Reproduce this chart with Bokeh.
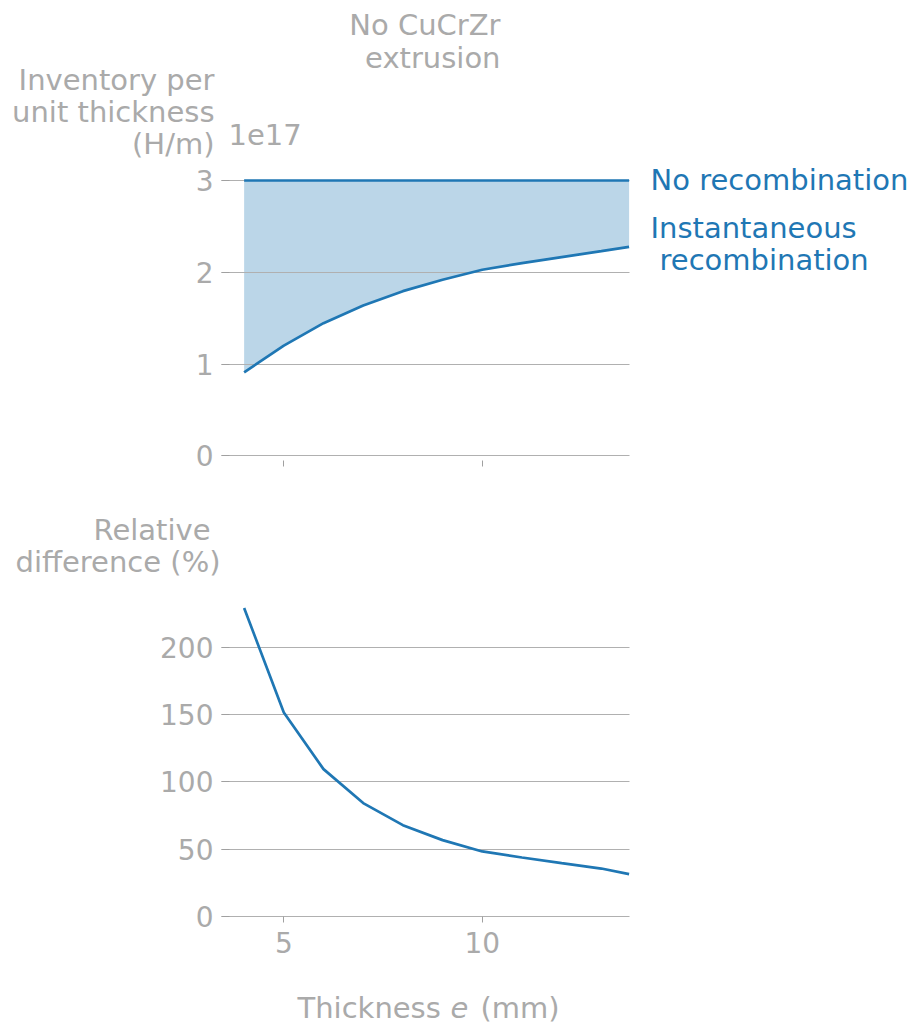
from bokeh.plotting import figure
from bokeh.layouts import column
from bokeh.models import Label, Range1d, FixedTicker, CustomJSTickFormatter
from bokeh.embed import file_html
from bokeh.resources import INLINE

# ---------------- data ----------------
thickness_mm = [4, 5, 6, 7, 8, 9, 10, 11, 12, 13, 13.7]
# inventory per unit thickness, in units of 1e17 H/m
no_recombination = [3.0, 3.0, 3.0, 3.0, 3.0, 3.0, 3.0, 3.0, 3.0, 3.0, 3.0]
instantaneous_recombination = [0.91, 1.20, 1.445, 1.638, 1.794, 1.918, 2.027, 2.10, 2.165, 2.23, 2.277]
# relative difference (%)
relative_difference = [229, 151.4, 109.4, 84.2, 67.8, 56.7, 48.3, 43.8, 39.6, 35.6, 31.5]

inv_ticks = [0, 1, 2, 3]
rel_ticks = [0, 50, 100, 150, 200]
x_ticks = [5, 10]

BLUE = "#1f77b4"
GREY = "#aaaaaa"
FONT = "DejaVu Sans"
FS_TICK = "28px"
FS = "29px"
LW = 2.7

W = 915                      # canvas width of both figures (frame = whole canvas)
X_LIM = (3.43, 13.71)        # visible plotting window in data units
AX_LEFT = 221                # pixel position of x = X_LIM[0]
KX = 408 / (X_LIM[1] - X_LIM[0])
X_RANGE = (X_LIM[0] - AX_LEFT / KX, X_LIM[0] + (W - AX_LEFT) / KX)


def style(p, yticks, y_axis_at_x, x_axis_at_y):
    p.outline_line_color = None
    p.xgrid.grid_line_color = None
    p.ygrid.grid_line_color = "#b0b0b0"
    p.ygrid.grid_line_width = 1
    p.ygrid.cross_bounds = X_LIM
    p.yaxis.ticker = FixedTicker(ticks=yticks)
    p.xaxis.ticker = FixedTicker(ticks=x_ticks)
    p.yaxis.fixed_location = y_axis_at_x
    p.xaxis.fixed_location = x_axis_at_y
    for ax in (p.xaxis[0], p.yaxis[0]):
        ax.axis_line_color = None
        ax.major_tick_line_color = "#a0a0a0"
        ax.major_tick_line_width = 1
        ax.minor_tick_line_color = None
        ax.major_label_text_color = GREY
        ax.major_label_text_font = FONT
        ax.major_label_text_font_size = FS_TICK
    p.yaxis.major_tick_in = 8
    p.yaxis.major_tick_out = 0
    p.yaxis.major_label_standoff = 8
    p.xaxis.major_tick_in = 0
    p.xaxis.major_tick_out = 6


def make_fig(h, y_range):
    return figure(frame_width=W, frame_height=h, output_backend="svg", toolbar_location=None,
                  x_range=Range1d(*X_RANGE), y_range=Range1d(*y_range),
                  min_border=0, min_border_left=0, min_border_right=0,
                  min_border_top=0, min_border_bottom=0)


def lab(p, h, px, py, text, align="left", color=GREY, style_="normal"):
    # px, py: pixels from the top-left corner of this figure's canvas
    p.add_layout(Label(x=px, y=h - py, x_units="screen", y_units="screen", text=text,
                       text_align=align, text_baseline="middle", text_color=color,
                       text_font=FONT, text_font_size=FS, text_font_style=style_))


# ---------------- top figure (canvas rows 0..488) ----------------
H1 = 488
KY1 = 91.77                  # px per 1e17 H/m
ZERO1 = 455.3                # pixel row of 0
p1 = make_fig(H1, (-(H1 - ZERO1) / KY1, ZERO1 / KY1))
style(p1, inv_ticks, X_LIM[0], -0.0512)
p1.xaxis.formatter = CustomJSTickFormatter(code="return ''")
p1.xaxis.major_label_standoff = 0

area = p1.varea(x=thickness_mm, y1=instantaneous_recombination, y2=no_recombination,
                fill_color=BLUE, fill_alpha=0.3)
area.level = "image"
p1.line(thickness_mm, no_recombination, line_color=BLUE, line_width=LW)
p1.line(thickness_mm, instantaneous_recombination, line_color=BLUE, line_width=LW)

lab(p1, H1, 500, 24, "No CuCrZr", "right")
lab(p1, H1, 500, 57, "extrusion", "right")
lab(p1, H1, 214, 79, "Inventory per", "right")
lab(p1, H1, 214, 111, "unit thickness", "right")
lab(p1, H1, 214, 143, "(H/m)", "right")
lab(p1, H1, 228, 134, "1e17", "left")
lab(p1, H1, 650, 179, "No recombination", "left", BLUE)
lab(p1, H1, 650, 227, "Instantaneous", "left", BLUE)
lab(p1, H1, 659, 259, "recombination", "left", BLUE)

# ---------------- bottom figure (canvas rows 488..1026) ----------------
H2 = 538
KY2 = 1.347                  # px per percent
ZERO2 = 916 - H1             # pixel row of 0 inside this figure
p2 = make_fig(H2, (-(H2 - ZERO2) / KY2, ZERO2 / KY2))
style(p2, rel_ticks, X_LIM[0], 0)
p2.xaxis.major_label_standoff = 9
p2.line(thickness_mm, relative_difference, line_color=BLUE, line_width=LW)

lab(p2, H2, 210, 529 - H1, "Relative", "right")
lab(p2, H2, 220, 561 - H1, "difference (%)", "right")
lab(p2, H2, 297, 1007 - H1, "Thickness", "left")
lab(p2, H2, 450, 1007 - H1, "e", "left", GREY, "italic")
lab(p2, H2, 480, 1007 - H1, "(mm)", "left")

layout = column(p1, p2, spacing=0)
open("out.html", "w").write(file_html(layout, INLINE))
